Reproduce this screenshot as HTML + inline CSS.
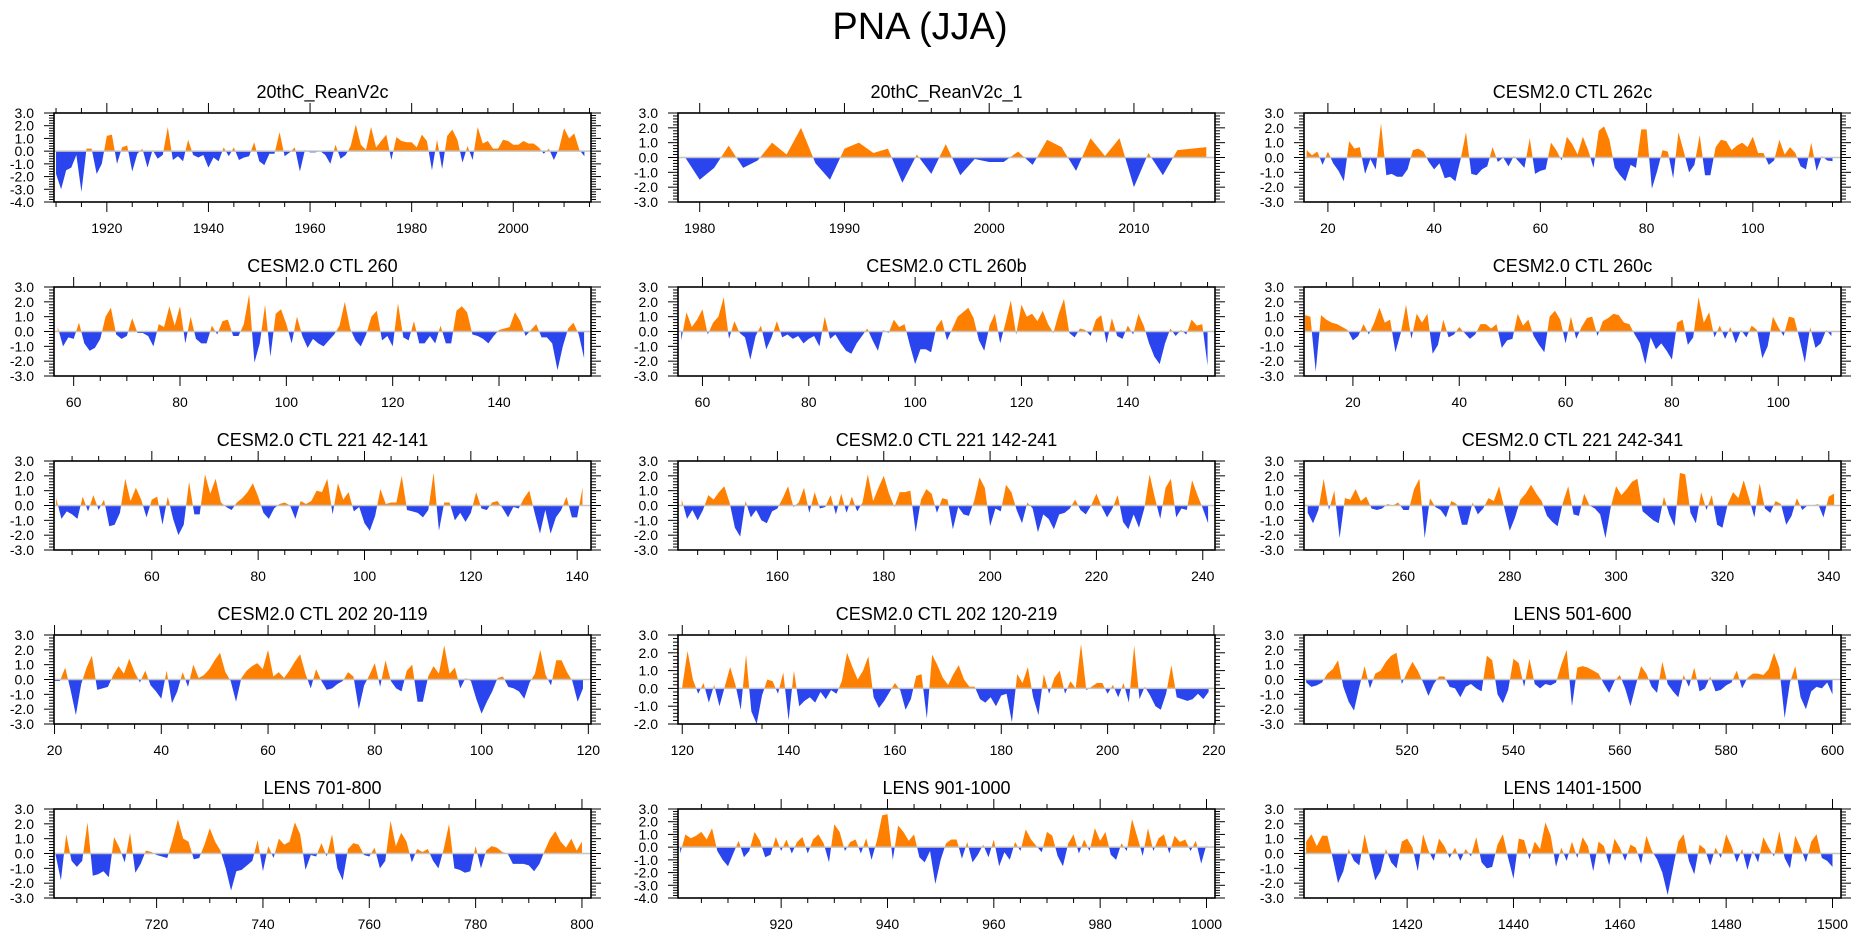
<!DOCTYPE html>
<html><head><meta charset="utf-8"><title>PNA (JJA)</title>
<style>
html,body{margin:0;padding:0;background:#fff;}
svg{display:block;font-family:"Liberation Sans",Arial,sans-serif;}
</style></head>
<body>
<svg id="fig" width="1861" height="936" viewBox="0 0 1861 936" xmlns="http://www.w3.org/2000/svg">
<text x="920" y="39" font-size="38" text-anchor="middle">PNA (JJA)</text>
</svg>
<script>
// ---- data: panel titles, start indices, values ----
const panelTitles = ["20thC_ReanV2c","20thC_ReanV2c_1","CESM2.0 CTL 262c","CESM2.0 CTL 260","CESM2.0 CTL 260b","CESM2.0 CTL 260c","CESM2.0 CTL 221 42-141","CESM2.0 CTL 221 142-241","CESM2.0 CTL 221 242-341","CESM2.0 CTL 202 20-119","CESM2.0 CTL 202 120-219","LENS 501-600","LENS 701-800","LENS 901-1000","LENS 1401-1500"];
const startYears = [1910,1979,16,57,56,11,42,142,242,20,120,501,701,901,1401];
const xMins = [1909.6,1978.5,15.5,56.3,55.4,10.8,41.6,141.3,241.3,19.9,119.2,500.6,700.7,900.6,1400.6];
const xMaxs = [2015.3,2015.6,116.6,157.3,156.4,111.8,142.6,242.3,342.3,120.5,220.2,601.6,801.7,1001.6,1501.6];
const yMins = [-4,-3,-3,-3,-3,-3,-3,-3,-3,-3,-2,-3,-3,-4,-3];
const yMaxs = [3,3,3,3,3,3,3,3,3,3,3,3,3,3,3];
const xMajorSteps = [20,10,20,20,20,20,20,20,20,20,20,20,20,20,20];
const xMinorSteps = [5,2,5,5,5,5,5,5,5,5,5,5,5,5,5];

const valsReanV2c = [-1.8,-3.0,-1.5,-1.3,-0.3,-3.2,0.2,0.2,-1.8,-1.0,1.2,1.3,-1.0,0.3,0.45,-1.6,-0.2,0.2,-1.3,0.1,-0.6,-0.3,1.9,-0.7,-0.4,-0.8,0.9,-0.3,-0.5,-0.3,-1.3,-0.5,-0.8,0.3,-0.4,0.3,-0.7,-0.5,-0.4,0.7,-0.8,-1.1,-0.2,-0.2,1.5,-0.4,-0.1,0.3,-1.6,0.1,-0.1,-0.1,0.0,-0.3,-1.0,0.5,-0.6,-0.3,0.4,2.1,0.5,0.1,1.9,0.3,0.8,1.3,-0.7,1.1,0.8,0.7,0.7,0.3,1.3,0.8,-1.5,0.9,-1.4,1.2,1.7,0.9,-0.9,0.4,-0.7,1.9,0.6,0.8,0.2,0.2,0.9,0.8,0.5,0.5,0.8,0.6,0.6,0.3,-0.2,0.2,-0.7,0.2,1.8,1.0,1.4,0.1,-0.4];
const valsReanV2c1 = [0.0,-1.5,-0.7,0.8,-0.7,-0.2,1.0,0.2,2.0,-0.4,-1.5,0.6,1.0,0.3,0.6,-1.7,0.2,-1.1,0.9,-1.2,-0.1,-0.3,-0.3,0.4,-0.5,1.2,0.7,-0.9,1.3,0.1,1.3,-2.0,0.3,-1.2,0.5,0.6,0.7];
const vals262c = [0.5,0.15,0.4,-0.5,0.4,-0.4,-0.9,-1.6,1.1,0.6,0.7,-1.1,-0.1,-0.8,2.3,-1.2,-1.1,-1.3,-1.3,-0.8,0.5,0.6,0.4,-0.3,-0.8,-0.4,-1.4,-1.3,-1.6,-0.1,1.7,-1.1,-1.2,-0.8,-0.6,0.7,-0.3,0.0,-0.6,0.1,-0.3,-0.7,1.3,-1.1,-0.9,-0.8,1.0,0.5,-0.2,1.4,0.9,0.2,1.4,0.5,-0.7,1.8,2.1,1.2,-0.7,-1.2,-1.6,-0.5,-0.7,1.9,1.9,-2.1,-0.9,0.5,0.4,-1.4,1.7,0.4,-1.0,-0.5,1.5,-1.2,-1.2,0.7,1.2,1.1,0.5,0.8,1.0,0.7,1.4,0.3,0.3,-0.5,-0.2,1.2,0.2,0.7,0.3,-0.6,-0.8,1.0,-0.9,0.1,-0.2,-0.25];
const vals260 = [0.3,-1.0,-0.4,-0.5,0.6,-0.8,-1.3,-1.1,-0.5,1.0,1.6,-0.2,-0.5,-0.3,0.9,-0.1,-0.1,-0.3,-1.0,0.5,0.3,1.7,0.4,1.7,-0.8,1.0,-0.5,-0.8,-0.8,0.4,-0.2,0.7,0.8,-0.3,-0.3,0.5,2.5,-2.1,-0.8,1.8,-1.7,1.2,1.5,0.5,-0.8,1.0,-0.3,-1.1,-0.5,-0.8,-1.0,-0.6,-0.2,0.4,2.0,0.2,-0.6,-1.0,-0.2,1.0,1.4,-0.6,-0.3,-1.0,1.9,-0.4,-0.6,0.7,-0.8,-0.8,-0.3,-0.8,0.4,-0.8,-0.8,1.4,1.7,1.3,-0.2,-0.3,-0.5,-0.8,-0.3,0.1,0.2,0.3,1.3,0.7,-0.3,0.1,0.5,-0.4,-0.4,-0.8,-2.6,-1.0,0.2,0.6,-0.2,-1.8];
const vals260b = [-0.6,1.3,0.3,0.8,1.5,-0.2,0.6,1.0,2.3,-0.5,0.7,-0.1,-0.4,-1.9,-0.3,0.4,-1.2,-0.4,0.7,-0.4,-0.2,-0.5,-0.3,-0.8,-0.5,-0.3,-1.0,1.0,-0.5,-0.2,-0.8,-1.3,-1.5,-0.8,-0.3,0.2,-0.6,-1.3,0.1,-0.1,0.8,0.3,0.5,-0.9,-2.2,-1.2,-1.2,-1.4,0.3,0.8,-0.6,0.2,1.0,1.3,1.6,0.9,-0.6,-1.3,0.4,1.2,-0.8,0.6,2.1,-0.2,1.8,1.0,1.2,0.7,1.4,0.5,-0.1,1.2,2.2,-0.1,-0.4,0.2,0.1,-0.3,0.8,1.1,-0.8,0.9,-0.3,-0.5,0.4,-0.2,1.2,0.4,-0.8,-1.7,-2.2,-0.8,0.2,-0.3,0.1,-0.2,0.8,0.4,0.5,-2.3];
const vals260c = [1.1,1.0,-2.7,1.1,0.8,0.6,0.5,0.3,0.1,-0.6,-0.3,0.5,-0.2,0.6,1.6,0.6,0.8,-1.4,-0.1,1.8,-0.5,1.2,0.6,1.2,-1.5,-0.9,0.8,-0.4,-0.2,0.3,-0.1,-0.5,-0.2,0.5,0.5,0.2,0.5,-1.1,-0.6,-0.5,1.2,0.4,0.8,-0.3,-0.9,-1.4,1.0,1.4,0.8,-0.8,1.0,-0.5,0.3,0.9,1.0,-0.3,0.7,0.9,1.2,1.1,0.6,0.5,-0.2,-0.8,-2.2,-0.4,-1.2,-0.8,-1.3,-1.9,0.6,0.8,-0.9,-0.4,2.3,0.6,1.3,-0.4,0.4,-0.5,0.3,-0.8,0.1,-0.4,0.4,0.1,-1.8,-1.0,1.0,0.3,-0.3,1.0,0.9,-0.5,-2.1,0.3,-1.1,-0.8,0.1,-0.3];
const vals221a = [0.5,-0.9,-0.4,-0.6,-0.9,0.6,-0.4,0.7,-0.3,0.4,-1.4,-1.3,-0.5,1.8,0.3,1.2,0.4,-0.8,0.4,0.6,-1.3,0.6,-0.9,-2.0,-1.3,1.6,-0.6,-0.6,2.1,0.8,1.8,0.2,-0.1,-0.3,0.2,0.5,0.9,1.5,0.6,-0.5,-0.9,-0.2,0.1,0.2,0.0,-0.9,0.3,0.1,0.3,1.0,0.9,1.8,-0.6,1.5,0.4,0.9,-0.4,-0.1,-1.2,-1.7,-0.7,1.1,0.1,0.2,0.2,2.0,-0.3,-0.4,-0.5,-0.8,-0.3,2.2,-1.7,0.2,0.2,-1.0,-0.5,-1.1,-0.5,0.9,-0.2,-0.3,0.2,0.3,-0.2,-0.8,-0.1,-0.2,0.5,1.0,-0.5,-1.9,-0.3,-1.9,-0.8,-0.3,0.6,-0.8,-0.8,1.2];
const vals221b = [0.4,-0.9,-0.3,-1.0,-0.3,0.7,0.4,0.9,1.3,0.2,-1.5,-2.1,0.3,-0.8,-0.3,-1.0,-1.2,-0.4,-0.2,0.5,1.3,-0.1,0.2,1.2,-0.5,0.9,-0.2,-0.1,0.7,-0.6,0.8,-0.5,0.6,-0.4,0.2,2.1,0.3,1.2,2.0,0.8,-0.1,0.9,0.9,1.0,-1.8,0.4,1.1,0.8,-0.5,0.5,0.4,-1.6,-0.1,-0.6,-0.7,0.3,1.9,1.2,-1.4,-0.2,-0.4,1.4,0.9,-0.3,-1.2,0.2,-0.2,-1.8,-0.6,-0.9,-1.6,-0.6,-0.5,-0.2,0.4,-0.3,-0.6,0.0,0.8,-0.1,-0.8,-0.2,0.7,-1.1,-1.6,-0.6,-1.5,-0.2,2.1,0.5,-0.9,1.2,1.8,-0.8,-0.2,-0.3,1.7,0.7,-0.2,-1.2];
const vals221c = [-0.5,-1.2,-0.3,1.8,-0.3,1.0,-2.2,0.5,0.4,1.1,0.3,0.6,-0.2,-0.3,-0.2,0.1,0.0,0.2,-0.3,-0.3,1.1,1.8,-2.2,0.5,-0.1,-0.3,-0.8,0.3,0.1,-1.3,-1.3,0.2,-0.6,-0.2,0.5,0.3,1.3,-0.2,-1.7,-0.8,0.4,0.8,1.4,0.8,0.3,-0.7,-1.1,-1.4,0.2,1.3,-0.6,-0.7,0.8,0.0,-0.2,-0.6,-2.2,-0.1,1.3,0.7,1.1,1.6,1.8,-0.4,-0.7,-1.0,-1.2,0.6,-0.6,-1.4,2.2,2.1,-0.5,-1.2,0.9,-0.3,0.7,-1.3,-1.5,0.1,0.9,0.5,1.7,0.5,-0.8,1.5,-0.2,-0.5,0.3,0.1,-1.3,-0.7,0.5,-0.3,0.0,0.0,0.1,-0.8,0.6,0.8];
const vals202a = [-0.1,-0.1,0.8,-0.7,-2.4,-0.3,0.8,1.6,-0.7,-0.6,-0.5,0.3,0.9,0.4,1.4,0.5,-0.2,0.6,-0.4,-0.8,-1.3,0.6,-1.6,-0.8,0.5,-0.5,1.0,0.1,0.3,0.7,1.3,1.8,0.5,-0.1,-1.5,0.1,0.6,0.9,1.1,0.7,2.0,0.2,0.5,0.1,0.6,1.2,1.7,0.4,-0.6,0.7,-0.1,-0.7,-0.6,-0.3,-0.1,0.5,0.2,-2.0,-0.4,0.3,1.1,-0.5,1.3,-0.1,-0.6,-0.8,0.6,1.0,-1.5,-1.5,0.2,0.9,0.4,2.3,0.4,0.8,-0.6,0.1,-0.1,-1.3,-2.3,-1.5,-0.8,0.1,0.2,-0.5,-0.6,-0.8,-1.3,-0.2,0.4,2.0,0.3,-0.4,1.3,1.3,0.5,-0.1,-1.5,-0.6];
const vals202b = [0.1,2.1,0.5,-0.3,0.3,-0.8,0.2,-1.0,0.1,1.2,0.2,-1.2,1.9,-1.3,-2.0,-0.4,0.5,0.4,-0.3,0.9,-1.8,1.0,-1.0,-0.7,-0.5,-0.8,-0.2,-0.6,-0.1,-0.3,0.4,2.0,1.2,0.5,1.0,1.8,-0.5,-1.1,-0.7,-0.2,0.3,-0.1,-1.2,-0.6,0.7,0.8,-1.7,1.9,1.3,0.6,0.2,0.8,1.3,0.5,0.1,0.1,-0.6,-0.8,-0.5,-1.0,-0.4,-0.3,-1.9,0.8,0.3,1.2,-0.5,-1.5,0.8,-0.3,0.6,1.0,-0.3,0.4,0.0,2.5,-0.1,0.1,0.3,0.3,-0.3,0.2,-0.5,0.3,-0.8,2.4,-0.6,0.1,-0.4,-1.0,-1.2,-0.3,1.3,-0.5,-0.6,-0.7,-0.6,-0.3,-0.6,-0.2];
const valsLens501 = [-0.2,-0.5,-0.4,-0.2,0.4,0.7,1.3,-0.5,-1.5,-2.1,-0.5,0.9,-0.6,0.4,0.6,1.2,1.6,1.8,-0.3,0.5,1.2,0.6,-0.2,-1.1,-0.3,0.2,0.2,-0.5,-0.6,-1.2,-0.5,-0.3,-0.6,-0.8,1.6,1.3,-1.0,-1.6,-0.7,1.4,1.1,-0.5,1.4,-0.3,-0.6,-0.3,-0.4,-0.2,1.0,2.0,-1.8,0.8,0.9,0.8,0.6,0.4,-0.3,-0.9,-0.1,0.3,-0.6,-1.8,-0.4,0.9,0.4,-0.5,-0.9,1.2,-0.3,-0.8,-1.2,0.3,-0.5,0.8,-0.8,-0.6,0.2,-0.8,-0.7,-0.4,-0.2,0.6,-0.6,0.1,0.4,0.4,0.3,0.7,1.8,0.8,-2.6,-0.2,0.9,-1.2,-2.0,-0.8,-0.5,-0.6,-0.2,-1.0];
const valsLens701 = [-0.1,-1.8,1.3,-0.5,-0.9,-0.5,2.1,-1.5,-1.4,-1.2,-1.6,1.1,0.4,-0.6,1.4,-1.3,-0.7,0.2,0.1,-0.1,-0.2,-0.3,0.9,2.3,1.0,0.8,-0.4,-0.3,0.6,1.7,0.8,0.2,-1.0,-2.5,-1.2,-1.1,-0.8,-0.5,0.9,-1.2,0.5,-0.3,1.0,0.6,0.8,2.1,1.3,-1.1,-0.1,-0.2,0.7,-0.2,1.3,-1.0,-1.8,0.3,0.7,0.6,-0.1,-0.2,0.4,-1.0,-0.5,2.2,0.5,1.4,0.8,-0.6,0.3,0.1,0.3,-0.5,-1.0,0.3,2.0,-1.0,-1.1,-1.3,-1.2,0.5,-1.0,0.2,0.5,0.4,0.1,0.0,-0.7,-0.7,-0.7,-0.8,-1.2,-0.7,0.2,1.0,1.5,0.8,0.4,1.0,0.2,0.8];
const valsLens901 = [-0.5,1.0,0.7,0.9,1.2,0.6,1.5,-0.3,-1.0,-1.5,-0.5,0.5,-0.8,-0.3,1.2,0.5,-0.8,-0.6,0.8,-0.3,0.6,-0.5,0.4,0.8,-0.5,0.6,1.0,0.3,-1.2,1.8,1.2,-0.3,0.4,0.6,-0.5,0.7,-1.0,0.5,2.5,2.6,-1.0,1.7,1.2,0.5,1.0,-0.8,-1.2,-0.3,-2.9,-1.0,0.3,0.6,0.6,-0.9,0.4,-1.2,-0.6,0.2,-0.8,0.6,-1.5,-0.4,-1.0,0.4,-0.3,1.4,0.6,0.1,-0.4,1.2,0.9,-0.7,-1.5,0.3,1.0,-0.5,0.6,-0.3,1.5,0.5,1.2,-0.6,-1.0,0.3,-0.3,2.2,0.8,-0.7,1.5,-0.3,0.7,1.0,-0.5,0.9,0.4,0.6,-0.3,0.5,-1.3,0.2];
const valsLens1401 = [0.8,1.3,0.5,1.2,1.2,-0.3,-2.0,-1.2,0.3,-0.5,-0.8,1.3,-0.3,-1.8,-1.2,0.3,-0.6,-1.0,0.8,1.0,0.4,-1.2,1.3,0.2,-0.5,1.0,0.5,-0.3,0.4,-0.5,0.3,-0.2,1.1,-0.6,-1.0,-0.9,0.6,1.3,-0.3,-1.7,1.0,0.9,-0.4,0.8,0.3,2.1,1.2,-0.9,0.4,-0.5,0.8,-0.3,1.1,0.5,-1.2,0.8,0.5,-0.8,1.0,0.4,-0.5,0.6,0.4,-0.7,1.2,0.2,-0.4,-1.3,-2.8,-1.0,0.8,1.3,-0.5,-1.4,0.6,0.3,-0.8,0.4,-0.3,1.3,0.5,-0.6,0.3,-1.1,0.2,-0.6,1.1,0.4,-0.2,1.5,-0.3,-1.0,1.2,0.4,-0.6,0.8,1.3,-0.3,-0.5,-0.9];

const seriesList = [valsReanV2c,valsReanV2c1,vals262c,vals260,vals260b,vals260c,vals221a,vals221b,vals221c,vals202a,vals202b,valsLens501,valsLens701,valsLens901,valsLens1401];

// ---- layout ----
const COL_X = [54,678,1304], ROW_Y = [113,287,461,635,809], PW = 537, PH = 89;
const ORANGE = "#ff8000", BLUE = "#2a45ee";
const NS = "http://www.w3.org/2000/svg";
const svg = document.getElementById('fig');
function mk(tag, attrs, parent){ const e=document.createElementNS(NS,tag); for(const k in attrs) e.setAttribute(k,attrs[k]); (parent||svg).appendChild(e); return e; }

for(let p=0;p<15;p++){
  const L = COL_X[p%3], T = ROW_Y[Math.floor(p/3)], R = L+PW, B = T+PH;
  const x0=xMins[p], x1=xMaxs[p], y0=yMins[p], y1=yMaxs[p];
  const sx = v => L + (v-x0)/(x1-x0)*PW;
  const sy = v => B - (v-y0)/(y1-y0)*PH;
  const g = mk('g',{});
  
  

  const title = mk('text',{x:L+PW/2,y:T-15,'font-size':18,'text-anchor':'middle'},g);
  
  
  title.textContent = panelTitles[p];

  // clip paths
  const cid='c'+p;
  const cpA = mk('clipPath',{id:cid+'a'},g); mk('rect',{x:L,y:T,width:PW,height:sy(0)-T},cpA);
  const cpB = mk('clipPath',{id:cid+'b'},g); mk('rect',{x:L,y:sy(0),width:PW,height:B-sy(0)},cpB);
  const vals = seriesList[p], st = startYears[p];
  let d = '';
  vals.forEach((v,i)=>{ d += (i?'L':'M')+sx(st+i).toFixed(2)+','+sy(v).toFixed(2); });
  d += 'L'+sx(st+vals.length-1).toFixed(2)+','+sy(0).toFixed(2)+'L'+sx(st).toFixed(2)+','+sy(0).toFixed(2)+'Z';
  const pa = mk('path',{d:d,fill:ORANGE,'clip-path':'url(#'+cid+'a)'},g);
  
  
  const pb = mk('path',{d:d,fill:BLUE,'clip-path':'url(#'+cid+'b)'},g);
  
  
  const zl = mk('line',{x1:L,x2:R,y1:sy(0),y2:sy(0),stroke:'#c4c4c4','stroke-width':1.5},g);
  
  

  // frame
  const fr = mk('rect',{x:L,y:T,width:PW,height:PH,fill:'none',stroke:'#000','stroke-width':1.6},g);
  
  

  // y ticks
  const ng = Math.round((y1-y0)/0.2);
  for(let k=0;k<=ng;k++){
    const v = y0 + k*0.2, yy = sy(v);
    const major = (k%5===0);
    const len = major?10:5;
    mk('line',{x1:L-len,x2:L,y1:yy,y2:yy,stroke:'#000','stroke-width':1},g);
    mk('line',{x1:R,x2:R+len,y1:yy,y2:yy,stroke:'#000','stroke-width':1},g);
    if(major){
      const t = mk('text',{x:L-20,y:yy+5,'font-size':14,'text-anchor':'end'},g);
      
      
      t.textContent = (Math.round(v*10)/10).toFixed(1);
    }
  }
  // x ticks
  const mi = xMinorSteps[p], ma = xMajorSteps[p];
  for(let v=Math.ceil(x0/mi)*mi; v<=x1; v+=mi){
    const xx = sx(v), major = (v%ma===0), len = major?10:5;
    mk('line',{x1:xx,x2:xx,y1:B,y2:B+len,stroke:'#000','stroke-width':1},g);
    mk('line',{x1:xx,x2:xx,y1:T-len,y2:T,stroke:'#000','stroke-width':1},g);
    if(major){
      const t = mk('text',{x:xx,y:B+31,'font-size':14,'text-anchor':'middle'},g);
      
      
      t.textContent = String(v);
    }
  }
}
</script>
</body></html>
